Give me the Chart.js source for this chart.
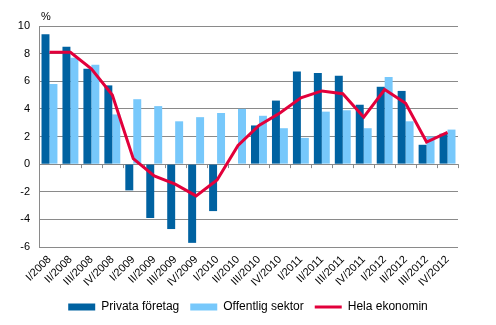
<!DOCTYPE html>
<html>
<head>
<meta charset="utf-8">
<script src="https://cdn.jsdelivr.net/npm/chart.js@4.4.1/dist/chart.umd.min.js"></script>
<style>
  html, body { margin: 0; padding: 0; background: #fff; }
  #wrap { width: 496px; height: 325px; position: relative; }
</style>
</head>
<body>
<div id="wrap"><canvas id="chart"></canvas></div>
<script>
// quarters on the x axis
const quarters = [
  "I/2008", "II/2008", "III/2008", "IV/2008",
  "I/2009", "II/2009", "III/2009", "IV/2009",
  "I/2010", "II/2010", "III/2010", "IV/2010",
  "I/2011", "II/2011", "III/2011", "IV/2011",
  "I/2012", "II/2012", "III/2012", "IV/2012",
];

// % change
const privata = [9.4, 8.5, 6.9, 5.7, -1.9, -3.9, -4.7, -5.7, -3.4, 0.0, 2.8, 4.6, 6.7, 6.6, 6.4, 4.3, 5.6, 5.3, 1.4, 2.2];
const offentlig = [5.8, 7.7, 7.2, 3.6, 4.7, 4.2, 3.1, 3.4, 3.7, 4.0, 3.5, 2.6, 1.9, 3.8, 3.9, 2.6, 6.3, 3.1, 2.0, 2.5];
const hela = [8.1, 8.1, 6.9, 5.0, 0.4, -0.85, -1.45, -2.3, -1.15, 1.35, 2.8, 3.7, 4.8, 5.3, 5.1, 3.4, 5.4, 4.4, 1.6, 2.3];

const yMin = -6;
const yMax = 10;
const yStep = 2;

const FONT = "'Liberation Sans', Arial, sans-serif";
const GRID = "#8a8a8a";

/* ── zero line tick marks + "%" label ── */
const axisExtras = {
  id: "axisExtras",
  beforeDatasetsDraw(chart) {
    const { ctx } = chart;
    const x = chart.scales.x;
    const y0 = chart.scales.y.getPixelForValue(0);
    const w = x.width / quarters.length;
    ctx.save();
    ctx.strokeStyle = GRID;
    ctx.lineWidth = 1;
    ctx.beginPath();
    for (let i = 0; i <= quarters.length; i++) {
      const px = Math.round(x.left + i * w) + 0.5;
      ctx.moveTo(px, y0);
      ctx.lineTo(px, y0 + 4);
    }
    ctx.stroke();
    ctx.restore();
  },
  afterDraw(chart) {
    const { ctx, chartArea } = chart;
    ctx.save();
    ctx.fillStyle = "#000";
    ctx.font = "11px " + FONT;
    ctx.textAlign = "left";
    ctx.textBaseline = "middle";
    ctx.fillText("%", chartArea.left + 2, chartArea.top - 9);
    ctx.restore();
  },
};

new Chart(document.getElementById("chart"), {
  type: "bar",
  data: {
    labels: quarters,
    datasets: [
      {
        label: "Privata företag",
        data: privata,
        backgroundColor: "#0062a1",
        borderWidth: 0,
        pointStyle: "rect",
        order: 1,
      },
      {
        label: "Offentlig sektor",
        data: offentlig,
        backgroundColor: "#77c8fb",
        borderWidth: 0,
        pointStyle: "rect",
        order: 1,
      },
      {
        type: "line",
        label: "Hela ekonomin",
        data: hela,
        borderColor: "#e2003b",
        backgroundColor: "#e2003b",
        borderWidth: 3,
        tension: 0,
        pointRadius: 0,
        pointStyle: "line",
        order: 0,
      },
    ],
  },
  options: {
    responsive: true,
    maintainAspectRatio: false,
    animation: false,
    layout: { padding: { top: 26, left: 0, right: 0, bottom: 2 } },
    datasets: { bar: { categoryPercentage: 0.76, barPercentage: 1 } },
    plugins: {
      tooltip: { enabled: false },
      legend: {
        position: "bottom",
        labels: {
          usePointStyle: true,
          pointStyleWidth: 27,
          boxHeight: 7,
          padding: 11,
          color: "#000",
          font: { family: FONT, size: 12 },
          sort: (a, b) => a.datasetIndex - b.datasetIndex,
        },
      },
    },
    scales: {
      x: {
        grid: { display: false, drawTicks: false },
        border: { display: false },
        ticks: {
          autoSkip: false,
          maxRotation: 45,
          minRotation: 45,
          padding: 6,
          color: "#000",
          font: { family: FONT, size: 11 },
        },
        afterFit(s) { s.height = 43; },
      },
      y: {
        min: yMin,
        max: yMax,
        grid: { color: GRID, drawTicks: false },
        border: { display: true, color: GRID },
        ticks: {
          stepSize: yStep,
          padding: 9,
          color: "#000",
          font: { family: FONT, size: 11 },
        },
        afterFit(s) { s.width = 39; },
      },
      yRight: {
        position: "right",
        display: true,
        grid: { display: false, drawTicks: false },
        border: { display: false },
        ticks: { display: false },
        afterFit(s) { s.width = 38; },
      },
    },
  },
  plugins: [axisExtras],
});
</script>
</body>
</html>
